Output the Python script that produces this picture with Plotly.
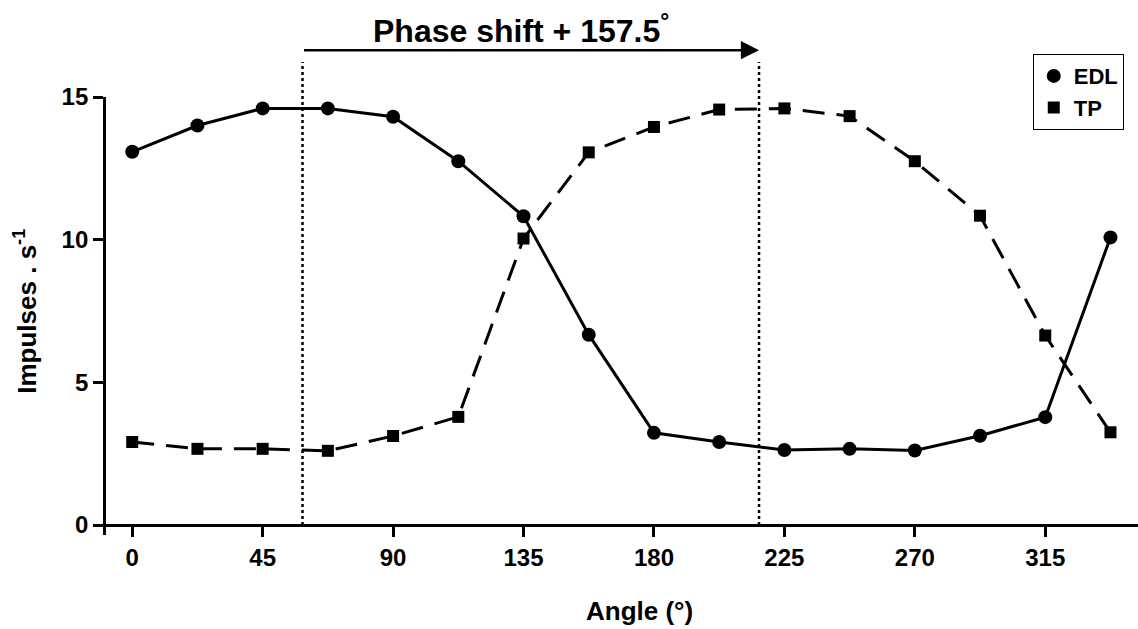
import plotly.graph_objects as go

angles = [0, 22.5, 45, 67.5, 90, 112.5, 135, 157.5, 180, 202.5, 225, 247.5, 270, 292.5, 315, 337.5]
edl = [13.08, 14.0, 14.6, 14.6, 14.31, 12.75, 10.82, 6.67, 3.23, 2.91, 2.63, 2.67, 2.61, 3.13, 3.78, 10.08]
tp = [2.91, 2.67, 2.67, 2.6, 3.12, 3.79, 10.04, 13.06, 13.95, 14.56, 14.6, 14.33, 12.75, 10.84, 6.64, 3.25]
x_ticks = [0, 45, 90, 135, 180, 225, 270, 315]
y_ticks = [0, 5, 10, 15]
shift_start, shift_end = 58.75, 216.25

FONT = "Liberation Sans, Arial, sans-serif"

fig = go.Figure()
fig.add_trace(go.Scatter(x=angles, y=edl, mode="lines+markers", showlegend=False,
                         line=dict(color="black", width=3),
                         marker=dict(symbol="circle", size=14, color="black")))
fig.add_trace(go.Scatter(x=angles, y=tp, mode="lines+markers", showlegend=False,
                         line=dict(color="black", width=3, dash="22px,12px"),
                         marker=dict(symbol="square", size=12, color="black")))
fig.add_trace(go.Scatter(x=[None], y=[None], mode="markers", name="EDL",
                         marker=dict(symbol="circle", size=14, color="black")))
fig.add_trace(go.Scatter(x=[None], y=[None], mode="markers", name="TP",
                         marker=dict(symbol="square", size=12, color="black")))

for xv in (shift_start, shift_end):
    fig.add_shape(type="line", xref="x", yref="paper", x0=xv, x1=xv,
                  y0=0.35 / 15.35, y1=1.08,
                  line=dict(color="black", width=2.5, dash="3px,3px"))

fig.add_annotation(x=shift_end, y=1.107, xref="x", yref="paper",
                   ax=shift_start, axref="x", ay=0, ayref="pixel",
                   text="", showarrow=True, arrowhead=2, arrowsize=1.45,
                   arrowwidth=2.5, arrowcolor="black", standoff=0, startstandoff=0)
fig.add_annotation(x=134.2, y=1.155, xref="x", yref="paper",
                   text="<b>Phase shift + 157.5<sup>°</sup></b>", showarrow=False,
                   font=dict(family=FONT, size=32, color="black"),
                   xanchor="center", yanchor="middle")
fig.add_annotation(x=-0.0676, y=0.511, xref="paper", yref="paper",
                   text="<b>Impulses . s<sup>-1</sup></b>", showarrow=False, textangle=-90,
                   font=dict(family=FONT, size=26, color="black"),
                   xanchor="center", yanchor="middle")
fig.add_annotation(x=0.522, y=-0.1735, xref="paper", yref="paper",
                   text="<b>Angle (°)</b>", showarrow=False,
                   font=dict(family=FONT, size=26, color="black"),
                   xanchor="center", yanchor="middle")

fig.update_layout(
    width=1138, height=629,
    margin=dict(l=95.5, r=0, t=97, b=94),
    paper_bgcolor="white", plot_bgcolor="white",
    font=dict(family=FONT, color="black"),
    legend=dict(x=0.899, y=1.098, xanchor="left", yanchor="top",
                bordercolor="black", borderwidth=1, bgcolor="white",
                font=dict(family=FONT, size=22, color="black", weight="bold"),
                itemwidth=30, tracegroupgap=0),
    xaxis=dict(range=[-12.5, 347], tickvals=x_ticks, ticktext=[str(v) for v in x_ticks],
               showgrid=False, zeroline=False, showline=True, linecolor="black", linewidth=3,
               ticks="outside", ticklen=10, tickwidth=3, tickcolor="black",
               anchor="free", position=0.35 / 15.35,
               tickfont=dict(family=FONT, size=24, color="black", weight="bold")),
    yaxis=dict(range=[-0.35, 15], tickvals=y_ticks, ticktext=[str(v) for v in y_ticks],
               showgrid=False, zeroline=False, showline=True, linecolor="black", linewidth=3,
               ticks="outside", ticklen=10, tickwidth=3, tickcolor="black",
               anchor="free", position=2.8 / 359.5,
               tickfont=dict(family=FONT, size=24, color="black", weight="bold")),
)

fig.write_html("out.html", config={"displayModeBar": False},
               post_script="document.body.style.margin='0px';")
